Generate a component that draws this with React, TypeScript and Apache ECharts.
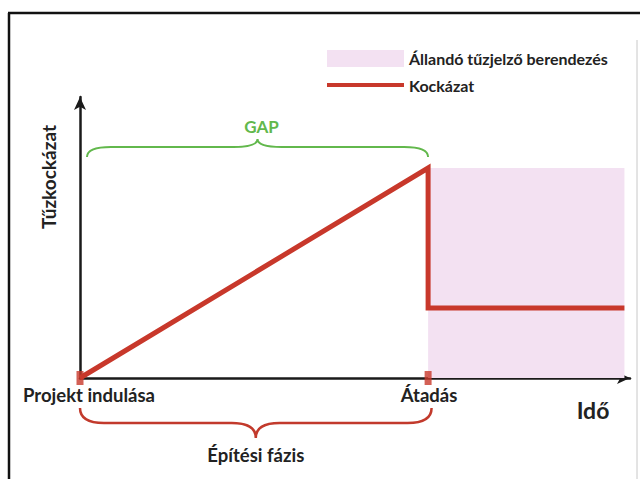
import React, { useEffect, useRef } from "react";
import * as echarts from "echarts";

// Risk curve: project start -> handover (peak) -> drop to lower level after handover
const riskX = [0, 1, 1, 1.564];
const riskY = [0, 1, 0.333, 0.333];

// Permanent fire alarm system area (after handover)
const alarmFrom = 1;
const alarmTo = 1.564;
const alarmTop = 1;

// Milestones on the time axis
const milestoneX = [0, 1];
const milestoneLabels = ["Projekt indulása", "Átadás"];

// Braces
const braceLabels = ["GAP", "Építési fázis"];
const braceFrom = [0.02, 0];
const braceTo = [1.0, 1.01];
const braceLevel = [1.1, -0.214];

const seriesNames = ["Állandó tűzjelző berendezés", "Kockázat"];

const FONT = "Lato, 'Open Sans', sans-serif";
const RED = "#c8382b";
const PINK = "#f3e1f2";
const GREEN = "#62b84c";
const BRACE_RED = "#c23a2c";
const TEXT = "#222";

export default function App() {
  const ref = useRef<HTMLDivElement>(null);

  useEffect(() => {
    if (!ref.current) return;
    const chart = echarts.init(ref.current, null, { renderer: "svg" });

    const braceStyle = [
      { dir: -1, tip: 10, cusp: 8, color: GREEN, lw: 2, labelOff: 20, font: 17 },
      { dir: 1, tip: 15, cusp: 15, color: BRACE_RED, lw: 2.5, labelOff: 32, font: 18.5 },
    ];

    const option: any = {
      animation: false,
      backgroundColor: "#fff",
      grid: { left: 80, right: 10, top: 97, bottom: 101, containLabel: false },
      xAxis: {
        type: "value",
        min: 0,
        max: 1.58,
        interval: 1,
        axisLine: {
          show: true,
          symbol: ["none", "arrow"],
          symbolSize: [9, 13],
          lineStyle: { color: "#1a1a1a", width: 2.5 },
        },
        axisTick: { show: false },
        splitLine: { show: false },
        axisLabel: {
          showMaxLabel: false,
          margin: 7,
          formatter: (v: number) => {
            const i = milestoneX.indexOf(v);
            if (i === 0) return "{a|" + milestoneLabels[0] + "}";
            if (i === 1) return "{b|" + milestoneLabels[1] + "}";
            return "";
          },
          rich: {
            a: { fontFamily: FONT, fontWeight: "bold", fontSize: 18.5, color: TEXT, padding: [0, 0, 0, 18] },
            b: { fontFamily: FONT, fontWeight: "bold", fontSize: 18.5, color: TEXT, padding: [0, 0, 0, 2] },
          },
        },
      },
      yAxis: {
        type: "value",
        min: 0,
        max: 1.338,
        axisLine: {
          show: true,
          symbol: ["none", "arrow"],
          symbolSize: [9, 13],
          lineStyle: { color: "#1a1a1a", width: 2.5 },
        },
        axisTick: { show: false },
        splitLine: { show: false },
        axisLabel: { show: false },
      },
      legend: {
        orient: "vertical",
        left: 322,
        top: 45,
        itemWidth: 77,
        itemHeight: 17,
        itemGap: 10,
        selectedMode: false,
        textStyle: { fontFamily: FONT, fontWeight: "bold", fontSize: 16, color: TEXT },
        data: [
          { name: seriesNames[0], icon: "rect", itemStyle: { color: PINK } },
          { name: seriesNames[1], icon: "path://M0,0L78,0L78,4L0,4Z", itemStyle: { color: RED } },
        ],
      },
      graphic: [
        { type: "line", shape: { x1: 8, y1: 13, x2: 640, y2: 13 }, style: { stroke: "#111", lineWidth: 2.5 } },
        { type: "line", shape: { x1: 9, y1: 13, x2: 9, y2: 479 }, style: { stroke: "#111", lineWidth: 2.5 } },
        { type: "line", shape: { x1: 637, y1: 40, x2: 637, y2: 479 }, style: { stroke: "#c8c8c8", lineWidth: 1 } },
        {
          type: "text",
          x: 48,
          y: 177,
          rotation: Math.PI / 2,
          style: {
            text: "Tűzkockázat",
            fontFamily: FONT,
            fontWeight: "bold",
            fontSize: 19,
            fill: TEXT,
            align: "center",
            verticalAlign: "middle",
          },
        },
        {
          type: "text",
          x: 593,
          y: 410,
          style: {
            text: "Idő",
            fontFamily: FONT,
            fontWeight: "bold",
            fontSize: 23,
            fill: TEXT,
            align: "center",
            verticalAlign: "middle",
          },
        },
      ],
      series: [
        {
          name: seriesNames[0],
          type: "line",
          data: [],
          color: PINK,
          z: 1,
          markArea: {
            silent: true,
            itemStyle: { color: PINK, opacity: 1 },
            data: [[{ coord: [alarmFrom, 0] }, { coord: [alarmTo, alarmTop] }]],
          },
        },
        {
          name: seriesNames[1],
          type: "line",
          data: riskX.map((x, i) => [x, riskY[i]]),
          symbol: "none",
          showSymbol: false,
          color: RED,
          lineStyle: { color: RED, width: 5, join: "miter" },
          z: 5,
        },
        {
          name: "markers",
          type: "scatter",
          data: milestoneX.map((x) => [x, 0]),
          symbol: "rect",
          symbolSize: [7, 14],
          itemStyle: { color: RED },
          z: 6,
          silent: true,
        },
        {
          name: "braces",
          type: "custom",
          clip: false,
          silent: true,
          z: 4,
          data: braceLabels.map((_, i) => [braceFrom[i], braceTo[i], braceLevel[i], i]),
          renderItem: (params: any, api: any) => {
            const i = api.value(3);
            const s = braceStyle[i];
            const p0 = api.coord([api.value(0), api.value(2)]);
            const p1 = api.coord([api.value(1), api.value(2)]);
            const x0 = p0[0];
            const x1 = p1[0];
            const yL = p0[1];
            const xm = (x0 + x1) / 2;
            const yT = yL - s.dir * s.tip;
            const yC = yL + s.dir * s.cusp;
            const r = 24;
            const d =
              `M${x0},${yT} Q${x0},${yL} ${x0 + r},${yL} L${xm - r},${yL} ` +
              `Q${xm},${yL} ${xm},${yC} Q${xm},${yL} ${xm + r},${yL} ` +
              `L${x1 - r},${yL} Q${x1},${yL} ${x1},${yT}`;
            return {
              type: "group",
              children: [
                {
                  type: "path",
                  shape: { pathData: d },
                  style: { stroke: s.color, fill: "none", lineWidth: s.lw },
                },
                {
                  type: "text",
                  x: xm + (i === 0 ? 4 : 0),
                  y: yL + s.dir * s.labelOff,
                  style: {
                    text: braceLabels[i],
                    fontFamily: FONT,
                    fontWeight: "bold",
                    fontSize: s.font,
                    fill: i === 0 ? GREEN : TEXT,
                    align: "center",
                    verticalAlign: "middle",
                  },
                },
              ],
            };
          },
        },
      ],
    };

    chart.setOption(option);
    return () => chart.dispose();
  }, []);

  return (
    <div
      ref={ref}
      style={{ position: "absolute", left: 0, top: 0, width: 640, height: 479, background: "#fff" }}
    />
  );
}
